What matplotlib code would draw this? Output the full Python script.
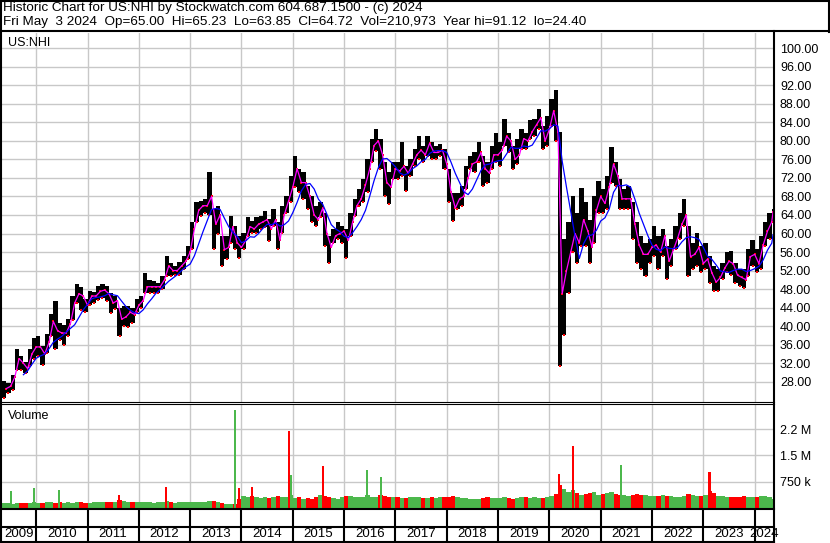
import numpy as np
import pandas as pd
import matplotlib
matplotlib.use("Agg")
import matplotlib.pyplot as plt

plt.rcParams["font.family"] = ["Liberation Sans", "DejaVu Sans"]
plt.rcParams["font.size"] = 9

W, H = 830, 543

# monthly high / low / close, May 2009 .. May 2024
month_high = [
    28.1, 27.8, 29.4, 35.1, 33.6, 32.2, 35.0, 37.5,
    37.8, 35.8, 38.2, 42.6, 45.4, 40.7, 40.2, 41.5, 46.5, 49.2, 48.5, 45.8,
    47.6, 47.4, 48.7, 49.0, 48.7, 47.2, 46.5, 44.0, 44.4, 44.4, 44.0, 45.8,
    46.5, 51.5, 50.0, 49.8, 49.4, 50.8, 55.1, 53.7, 53.0, 53.8, 55.2, 57.3,
    62.4, 66.7, 67.0, 67.4, 73.2, 65.3, 66.0, 59.5, 59.5, 63.8, 61.7, 59.5,
    60.2, 63.5, 62.7, 63.5, 63.8, 64.9, 63.1, 65.3, 62.4, 66.0, 68.1, 72.5,
    76.8, 73.9, 73.2, 70.3, 68.1, 66.0, 66.7, 64.5, 59.5, 60.9, 62.4, 61.7,
    60.9, 64.5, 67.4, 69.6, 71.7, 76.1, 80.4, 82.6, 80.4, 75.4, 73.2, 75.4,
    75.4, 79.8, 74.6, 76.1, 78.2, 81.1, 79.0, 81.1, 79.7, 79.0, 79.3, 78.2,
    73.9, 68.8, 68.8, 70.3, 74.6, 76.8, 77.5, 79.7, 76.8, 75.4, 78.9, 81.8,
    79.7, 84.7, 81.8, 79.0, 80.4, 82.6, 81.8, 84.5, 84.7, 86.9, 83.3, 85.4,
    89.0, 91.1, 82.0, 58.8, 62.4, 68.1, 64.5, 69.9, 66.7, 63.0, 68.1, 71.4,
    69.6, 72.5, 78.6, 75.4, 71.7, 69.6, 70.3, 66.7, 62.4, 59.5, 58.0, 58.8,
    61.7, 59.5, 61.0, 57.3, 58.8, 61.7, 64.5, 67.4, 61.7, 58.0, 60.2, 57.3,
    58.0, 55.2, 53.0, 52.3, 53.7, 55.9, 56.3, 53.7, 52.3, 52.3, 56.6, 58.6,
    56.6, 59.5, 62.4, 64.5, 65.3,
]
month_low = [
    24.4, 25.6, 26.3, 30.5, 30.6, 29.8, 31.3, 32.8,
    33.5, 31.7, 34.2, 37.8, 35.0, 37.1, 36.0, 37.8, 41.4, 45.0, 43.5, 43.0,
    44.5, 45.0, 45.6, 46.0, 45.4, 42.9, 43.6, 37.9, 40.0, 39.8, 40.6, 43.0,
    44.0, 47.2, 47.2, 47.2, 47.2, 48.0, 50.8, 50.8, 51.0, 51.0, 52.3, 54.4,
    56.6, 62.4, 63.8, 64.5, 64.0, 56.6, 60.0, 53.0, 54.5, 58.0, 56.6, 54.8,
    56.6, 59.5, 60.2, 60.2, 60.9, 61.3, 58.4, 61.7, 56.6, 60.2, 64.5, 66.7,
    70.0, 68.9, 67.4, 65.3, 62.4, 61.7, 63.5, 57.3, 53.7, 58.0, 58.8, 58.0,
    54.8, 59.5, 63.8, 66.0, 66.7, 68.9, 75.4, 77.8, 73.9, 68.1, 66.3, 71.7,
    71.7, 72.5, 69.2, 72.5, 74.6, 76.1, 75.4, 76.8, 76.0, 76.1, 76.8, 73.9,
    66.7, 62.7, 65.3, 66.0, 69.6, 73.9, 73.2, 75.4, 70.3, 71.0, 73.9, 75.4,
    74.6, 79.0, 77.5, 73.9, 75.0, 78.2, 78.2, 80.4, 81.1, 82.6, 78.2, 79.0,
    83.3, 80.0, 31.4, 38.0, 47.2, 55.9, 53.7, 57.3, 57.3, 53.7, 58.0, 64.5,
    64.5, 65.3, 71.0, 70.3, 65.3, 65.3, 65.3, 58.8, 53.7, 52.3, 50.8, 53.7,
    55.2, 52.3, 55.2, 50.1, 53.0, 56.6, 58.8, 61.7, 50.8, 52.3, 53.0, 51.6,
    52.3, 49.4, 47.6, 47.6, 50.1, 51.6, 51.0, 49.4, 48.7, 48.3, 50.8, 53.0,
    51.6, 52.3, 57.3, 58.8, 62.4,
]
month_close = [
    26.5, 27.0, 29.0, 33.0, 32.0, 30.8, 34.0, 35.5,
    35.5, 34.0, 36.5, 41.0, 39.0, 38.5, 38.5, 40.5, 45.0, 47.0, 46.5, 44.5,
    46.5, 46.5, 47.5, 47.8, 47.0, 45.0, 45.5, 41.5, 42.0, 43.0, 42.5, 44.5,
    45.5, 48.5, 48.5, 48.5, 48.5, 50.0, 53.0, 52.0, 52.0, 53.0, 54.0, 56.0,
    61.0, 65.0, 66.0, 66.0, 68.0, 62.0, 64.0, 56.5, 57.0, 61.5, 58.0, 57.0,
    58.5, 61.5, 61.0, 62.0, 62.5, 63.0, 61.0, 63.0, 58.5, 64.0, 67.0, 70.0,
    74.0, 71.0, 71.0, 68.0, 64.0, 63.0, 65.5, 60.0, 57.0, 59.5, 60.0, 60.5,
    58.5, 62.5, 66.0, 67.5, 70.5, 74.0, 79.0, 80.0, 77.0, 71.0, 70.0, 74.0,
    73.5, 74.5, 73.0, 75.0, 77.0, 78.0, 77.0, 79.5, 77.5, 77.5, 78.0, 75.0,
    69.0, 65.5, 67.5, 68.0, 72.0, 75.0, 75.5, 77.5, 74.0, 73.0, 77.0, 77.0,
    78.0, 81.0, 80.0, 76.0, 77.0, 80.5, 80.0, 82.0, 83.5, 85.0, 80.0, 82.5,
    86.5, 82.0, 47.0, 52.0, 56.0, 60.0, 58.0, 63.0, 60.5, 57.0, 65.0, 68.0,
    66.5, 70.0, 75.0, 72.5, 67.5, 67.5, 67.5, 62.0, 57.5, 55.5, 55.5, 57.0,
    57.5, 56.0, 59.5, 54.0, 56.5, 59.0, 62.0, 64.0, 55.0, 55.5, 57.0, 53.5,
    54.5, 51.5, 49.5, 50.5, 52.5, 54.0, 53.5, 51.0, 50.5, 50.0, 55.0, 55.5,
    53.5, 57.5, 60.5, 62.5, 64.7,
]
# typical daily volume per month, thousands of shares
month_volume = [
    130, 150, 120, 140, 150, 130, 140, 160,
    150, 140, 160, 170, 150, 170, 140, 160, 150, 170, 160, 150,
    150, 160, 170, 160, 170, 180, 170, 220, 200, 180, 170, 160,
    160, 170, 160, 150, 170, 180, 190, 160, 150, 170, 160, 180,
    170, 160, 170, 180, 200, 210, 170, 150, 120, 100, 110, 260,
    330, 300, 340, 310, 290, 320, 280, 300, 340, 320, 300, 380,
    280, 300, 260, 280, 270, 300, 380, 340, 300, 280, 270, 300,
    330, 350, 320, 300, 310, 380, 320, 300, 360, 330, 320, 310,
    300, 280, 290, 300, 310, 320, 280, 290, 300, 290, 300, 310,
    300, 340, 310, 290, 280, 270, 260, 270, 280, 300, 290, 280,
    290, 300, 280, 270, 290, 300, 310, 290, 300, 280, 290, 300,
    330, 400, 650, 550, 450, 500, 420, 380, 400, 420, 450, 380,
    400, 420, 450, 400, 380, 360, 350, 380, 400, 380, 360, 350,
    350, 340, 360, 330, 340, 300, 320, 330, 400, 360, 340, 350,
    380, 480, 420, 350, 330, 320, 300, 300, 310, 330, 320, 310,
    300, 350, 330, 320, 250,
]
# single-day volume spikes
spike_dates = [2009.50, 2009.96, 2010.45, 2011.62, 2012.53, 2013.87, 2013.95, 2014.20,
               2014.93, 2014.96, 2015.58, 2016.45, 2016.72, 2020.18, 2020.46, 2021.40, 2023.12]
spike_volume = [480, 570, 500, 380, 600, 2800, 580, 600,
                2190, 930, 1200, 1090, 880, 975, 1770, 1230, 1020]
spike_up = [1, 1, 1, 0, 0, 1, 0, 0, 0, 1, 0, 1, 1, 0, 0, 1, 0]

years = list(range(2009, 2025))
price_ticks = list(range(28, 101, 4))
vol_ticks = [750000, 1500000, 2250000]
vol_labels = ["750 k", "1.5 M", "2.2 M"]

header1 = "Historic Chart for US:NHI by Stockwatch.com 604.687.1500 - (c) 2024"
header2 = ("Fri May  3 2024  Op=65.00  Hi=65.23  Lo=63.85  Cl=64.72  "
           "Vol=210,973  Year hi=91.12  lo=24.40")

RED = "#ff0000"
GREEN = "#4cb84c"
GRID = "#c8c8c8"


def px_rect(x0, y0, x1, y1):
    return [x0 / W, 1 - y1 / H, (x1 - x0) / W, (y1 - y0) / H]


n = len(month_close)
starts = np.array([2009 + (4 + i) / 12 for i in range(n)])
widths = np.full(n, 1 / 12)
widths[-1] = 0.3 / 12
ends = starts + widths
highs = np.array(month_high)
lows = np.array(month_low)
closes = pd.Series(month_close)
ma_long = closes.rolling(5).mean()

x_left = 2009 + 4 / 12
x_right = 2010 + (773 - 34.3) / 51.45

fig = plt.figure(figsize=(W / 100, H / 100), dpi=100)
fig.patch.set_facecolor("white")

# ---- price panel
ax = fig.add_axes(px_rect(2, 32.5, 773, 401.5))
ax.bar(starts, highs - lows, bottom=lows, width=widths, align="edge", color="black", linewidth=0, zorder=2)
ax.plot(starts + widths / 2, lows, ls="none", marker="s", ms=1.5, mew=0, color=RED, zorder=3)
ax.plot(ends, closes, ls="none", marker="s", ms=1.5, mew=0, color=RED, zorder=3)
ax.plot(ends, closes, color="#ff00ff", lw=0.9, zorder=4)
ax.plot(ends, ma_long, color="#0000ff", lw=0.9, zorder=5)
ax.set_xlim(x_left, x_right)
ax.set_ylim(100 - (401.5 - 48.3) / 4.63, 100 + (48.3 - 32.5) / 4.63)
ax.set_xticks(years[1:])
ax.set_yticks(price_ticks)
ax.set_yticklabels([f"{t:.2f}" for t in price_ticks])
ax.yaxis.tick_right()
ax.tick_params(axis="y", length=0, pad=5, labelsize=9)
ax.tick_params(axis="x", length=0, labelbottom=False)
ax.grid(True, color=GRID, lw=1, zorder=0)
ax.set_axisbelow(True)
for s in ax.spines.values():
    s.set_visible(False)
ax.text(0.008, 0.987, "US:NHI", transform=ax.transAxes, ha="left", va="top", fontsize=9)

# ---- volume panel
vol_k = np.array(month_volume)
prev = closes.shift(1).fillna(closes[0])
vol_colors = [GREEN if c >= p else RED for c, p in zip(closes, prev)]
axv = fig.add_axes(px_rect(2, 404.5, 773, 508))
axv.bar(starts, vol_k * 1000, width=widths, align="edge", color=vol_colors, linewidth=0, zorder=2)
axv.bar(spike_dates, np.array(spike_volume) * 1000, width=0.04, align="center",
        color=[GREEN if u else RED for u in spike_up], linewidth=0, zorder=3)
axv.set_xlim(x_left, x_right)
axv.set_ylim(0, 103.5 / 26.3 * 750000)
axv.set_xticks(years[1:])
axv.set_yticks(vol_ticks)
axv.set_yticklabels(vol_labels)
axv.yaxis.tick_right()
axv.tick_params(axis="y", length=0, pad=5, labelsize=9)
axv.tick_params(axis="x", length=0, labelbottom=False)
axv.grid(True, color=GRID, lw=1, zorder=0)
axv.set_axisbelow(True)
for s in axv.spines.values():
    s.set_visible(False)
axv.text(0.008, 0.95, "Volume", transform=axv.transAxes, ha="left", va="top", fontsize=9)

# ---- year strip
axs = fig.add_axes(px_rect(2, 509, 773, 542))
axs.set_xlim(x_left, x_right)
axs.set_ylim(0, 1)
axs.axis("off")
for yr in years[1:]:
    axs.axvline(yr, color="black", lw=1.5)
for yr in years:
    mid = (max(yr, x_left) + min(yr + 1, x_right)) / 2
    axs.text(mid, 0.24, str(yr), ha="center", va="center", fontsize=9.5)

# ---- frame lines (pixel coordinates)
ov = fig.add_axes([0, 0, 1, 1], zorder=10)
ov.set_xlim(0, W)
ov.set_ylim(H, 0)
ov.axis("off")
ov.patch.set_alpha(0)
lw2 = 1.5
ov.plot([0, W], [0.7, 0.7], color="black", lw=lw2)
ov.plot([1, 1], [0, H], color="black", lw=lw2)
ov.plot([828.5, 828.5], [0, 31.5], color="black", lw=lw2)
ov.plot([0, W], [31.2, 31.2], color="black", lw=lw2)
ov.plot([774, 774], [31, H], color="black", lw=lw2)
ov.plot([0, 774], [402, 402], color="black", lw=0.8)
ov.plot([0, 774], [404, 404], color="black", lw=0.8)
ov.plot([0, 774], [509.3, 509.3], color="black", lw=lw2)
ov.plot([0, 774], [526.7, 526.7], color="black", lw=lw2)
ov.plot([0, 774], [541.8, 541.8], color="black", lw=lw2)
ov.text(3, 8.5, header1, ha="left", va="center", fontsize=9.7)
ov.text(3, 22.5, header2, ha="left", va="center", fontsize=9.7)

fig.savefig("out.png", dpi=100)
